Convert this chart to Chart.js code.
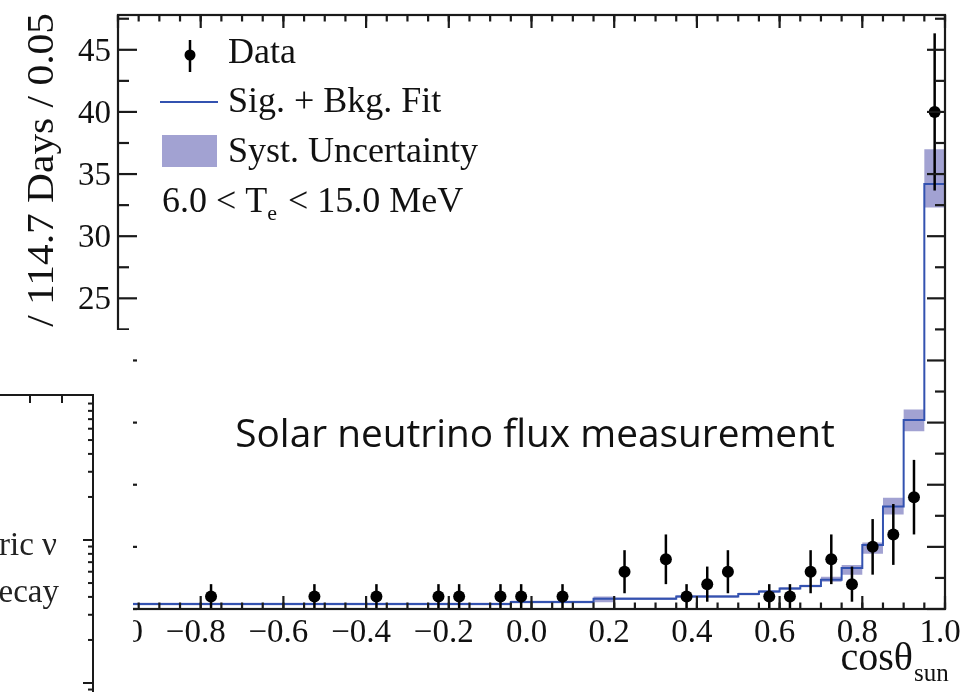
<!DOCTYPE html>
<html>
<head>
<meta charset="utf-8">
<script src="https://cdn.jsdelivr.net/npm/chart.js@4.4.1/dist/chart.umd.min.js"></script>
<style>
html, body { margin: 0; padding: 0; background: #fff; }
#wrap { width: 971px; height: 692px; position: relative; }
</style>
</head>
<body>
<div id="wrap"><canvas id="flux-chart"></canvas></div>
<script>
// cos(theta_sun) histogram, 40 bins of 0.05 from -1 to 1
var binWidth = 0.05;
var dataCounts = [0, 0, 0, 0, 1, 0, 0, 0, 0, 1,
                  0, 0, 1, 0, 0, 1, 1, 0, 1, 1,
                  0, 1, 0, 0, 3, 0, 4, 1, 2, 3,
                  0, 1, 1, 3, 4, 2, 5, 6, 9, 40];
var fitValues = [0.4, 0.4, 0.4, 0.4, 0.4, 0.4, 0.4, 0.4, 0.4, 0.4,
                 0.4, 0.4, 0.4, 0.4, 0.4, 0.4, 0.4, 0.4, 0.4, 0.57,
                 0.57, 0.57, 0.57, 0.83, 0.83, 0.83, 0.83, 1.0, 1.0, 1.0,
                 1.2, 1.4, 1.65, 1.85, 2.35, 3.3, 5.15, 8.25, 15.2, 34.2];
var systLow = [0.3, 0.3, 0.3, 0.3, 0.3, 0.3, 0.3, 0.3, 0.3, 0.3,
               0.3, 0.3, 0.3, 0.3, 0.3, 0.3, 0.3, 0.3, 0.3, 0.47,
               0.47, 0.47, 0.47, 0.55, 0.73, 0.73, 0.73, 0.9, 0.9, 0.9,
               1.1, 1.3, 1.55, 1.75, 2.2, 2.75, 4.45, 7.6, 14.3, 32.3];
var systHigh = [0.5, 0.5, 0.5, 0.5, 0.5, 0.5, 0.5, 0.5, 0.5, 0.5,
                0.5, 0.5, 0.5, 0.5, 0.5, 0.5, 0.5, 0.5, 0.5, 0.67,
                0.67, 0.67, 0.67, 1.0, 0.93, 0.93, 0.93, 1.1, 1.1, 1.1,
                1.3, 1.5, 1.75, 1.95, 2.6, 3.55, 5.35, 8.95, 16.05, 37.0];

var xTickValues = [-1.0, -0.8, -0.6, -0.4, -0.2, 0.0, 0.2, 0.4, 0.6, 0.8, 1.0];
var xTickLabels = ['\u22121.0', '\u22120.8', '\u22120.6', '\u22120.4', '\u22120.2', '0.0', '0.2', '0.4', '0.6', '0.8', '1.0'];
var yTickValues = [0, 5, 10, 15, 20, 25, 30, 35, 40, 45];
var yTickLabels = ['0', '5', '10', '15', '20', '25', '30', '35', '40', '45'];
var yMinorStep = 2.5;

var legendLabels = ['Data', 'Sig. + Bkg. Fit', 'Syst. Uncertainty'];
var xTitle = 'cos\u03b8';
var xTitleSub = 'sun';
var yTitle = 'Events / 114.7 Days / 0.05';
var overlayText = 'Solar neutrino flux measurement';

var fitColor = '#3352b0';
var bandColor = '#a2a2d2';
var frameColor = '#1a1a1a';
var serif = '"Liberation Serif", "Times New Roman", serif';

var binEdges = [];
for (var i = 0; i <= dataCounts.length; i++) {
    binEdges.push(-1 + i * binWidth);
}

// histogram values -> points at left bin edges, closed at the right edge
function stepPoints(values) {
    var pts = values.map(function(v, i) {
        return {x: binEdges[i], y: v};
    });
    pts.push({x: binEdges[values.length], y: values[values.length - 1]});
    return pts;
}

var dataPoints = [];
dataCounts.forEach(function(n, i) {
    if (n > 0) {
        dataPoints.push({x: (binEdges[i] + binEdges[i + 1]) / 2, y: n, err: Math.sqrt(n)});
    }
});

function line(ctx, x1, y1, x2, y2) {
    ctx.beginPath();
    ctx.moveTo(x1, y1);
    ctx.lineTo(x2, y2);
    ctx.stroke();
}

var rootStyle = {
    id: 'rootStyle',
    afterDatasetsDraw: function(chart) {
        var ctx = chart.ctx;
        var xs = chart.scales.x, ys = chart.scales.y;
        ctx.save();
        ctx.strokeStyle = '#000';
        ctx.lineWidth = 2.5;
        dataPoints.forEach(function(p) {
            var px = xs.getPixelForValue(p.x);
            line(ctx, px, ys.getPixelForValue(Math.max(0, p.y - p.err)), px, ys.getPixelForValue(p.y + p.err));
        });
        ctx.restore();
    },
    afterDraw: function(chart) {
        var ctx = chart.ctx;
        var xs = chart.scales.x, ys = chart.scales.y;
        var a = chart.chartArea;
        ctx.save();

        // frame
        ctx.strokeStyle = frameColor;
        ctx.lineWidth = 2.2;
        ctx.strokeRect(a.left, a.top, a.right - a.left, a.bottom - a.top);

        // x ticks, bottom and top
        binEdges.forEach(function(v) {
            var px = xs.getPixelForValue(v);
            line(ctx, px, a.bottom, px, a.bottom - 6.5);
            line(ctx, px, a.top, px, a.top + 6.5);
        });
        xTickValues.forEach(function(v) {
            var px = xs.getPixelForValue(v);
            line(ctx, px, a.bottom, px, a.bottom - 13);
            line(ctx, px, a.top, px, a.top + 13);
        });
        // y ticks, left and right
        for (var v = 0; v <= ys.max; v += yMinorStep) {
            var py = ys.getPixelForValue(v);
            var major = yTickValues.indexOf(v) >= 0;
            line(ctx, a.left, py, a.left + (major ? 19 : 11), py);
            line(ctx, a.right, py, a.right - (major ? 18 : 10), py);
        }

        // tick labels
        ctx.fillStyle = '#111';
        ctx.font = '33px ' + serif;
        ctx.textBaseline = 'alphabetic';
        ctx.textAlign = 'center';
        xTickValues.forEach(function(v, i) {
            ctx.fillText(xTickLabels[i], xs.getPixelForValue(v) - 5, a.bottom + 33);
        });
        ctx.textAlign = 'right';
        yTickValues.forEach(function(v, i) {
            ctx.fillText(yTickLabels[i], a.left - 7, ys.getPixelForValue(v) + 11);
        });

        // axis titles
        ctx.font = '40px ' + serif;
        ctx.textAlign = 'right';
        ctx.fillText(xTitle, 913, 670);
        ctx.font = '25px ' + serif;
        ctx.textAlign = 'left';
        ctx.fillText(xTitleSub, 914, 681);

        ctx.save();
        ctx.translate(53, 13);
        ctx.rotate(-Math.PI / 2);
        ctx.scale(1.12, 1);
        ctx.font = '37px ' + serif;
        ctx.textAlign = 'right';
        ctx.fillText(yTitle, 0, 0);
        ctx.restore();

        // legend
        ctx.fillStyle = '#000';
        ctx.beginPath();
        ctx.arc(190, 55, 5.5, 0, Math.PI * 2);
        ctx.fill();
        ctx.strokeStyle = '#000';
        ctx.lineWidth = 2.5;
        line(ctx, 190, 40, 190, 72);
        ctx.strokeStyle = fitColor;
        ctx.lineWidth = 2;
        line(ctx, 160, 102, 218, 102);
        ctx.fillStyle = bandColor;
        ctx.fillRect(162, 135, 55, 32);

        ctx.fillStyle = '#111';
        ctx.font = '36px ' + serif;
        ctx.textAlign = 'left';
        ctx.fillText(legendLabels[0], 228, 63);
        ctx.fillText(legendLabels[1], 228, 112);
        ctx.fillText(legendLabels[2], 228, 162);

        var x0 = 162;
        var t1 = '6.0 < T';
        ctx.fillText(t1, x0, 212);
        x0 += ctx.measureText(t1).width;
        ctx.font = '22px ' + serif;
        ctx.fillText('e', x0, 220);
        x0 += ctx.measureText('e').width + 2;
        ctx.font = '36px ' + serif;
        ctx.fillText(' < 15.0 MeV', x0, 212);

        // cover of the lower left corner, with a piece of the neighbouring panel
        ctx.fillStyle = '#fff';
        ctx.fillRect(0, 330, 133, 362);
        ctx.strokeStyle = frameColor;
        ctx.lineWidth = 2;
        ctx.beginPath();
        ctx.moveTo(0, 395);
        ctx.lineTo(93, 395);
        ctx.lineTo(93, 692);
        ctx.stroke();
        line(ctx, 30, 395, 30, 403);
        line(ctx, 62, 395, 62, 403);
        [540, 683, 826].forEach(function(base) {
            line(ctx, 93, base, 83, base);
            for (var k = 2; k <= 9; k++) {
                var py = base - 143 * Math.log10(k);
                if (py > 396 && py < 692) line(ctx, 93, py, 88, py);
            }
        });
        ctx.fillStyle = '#222';
        ctx.font = '33px ' + serif;
        ctx.textAlign = 'right';
        ctx.fillText('Atmospheric \u03bd', 57, 555);
        ctx.fillText('decay', 59, 602);

        // overlay caption
        ctx.fillStyle = '#111';
        ctx.font = '38.8px "Open Sans", sans-serif';
        ctx.textAlign = 'center';
        ctx.fillText(overlayText, 535, 447);

        ctx.restore();
    }
};

var ctx = document.getElementById('flux-chart').getContext('2d');
var fluxChart = new Chart(ctx, {
    type: 'scatter',
    data: {
        datasets: [{
            label: legendLabels[0],
            data: dataPoints,
            pointRadius: 6,
            pointBackgroundColor: '#000',
            pointBorderColor: '#000',
            pointBorderWidth: 0,
            showLine: false
        }, {
            label: legendLabels[1],
            type: 'line',
            data: stepPoints(fitValues),
            stepped: 'before',
            borderColor: fitColor,
            borderWidth: 2,
            pointRadius: 0,
            fill: false
        }, {
            label: 'Syst. high',
            type: 'line',
            data: stepPoints(systHigh),
            stepped: 'before',
            borderColor: 'rgba(0,0,0,0)',
            borderWidth: 1,
            pointRadius: 0,
            backgroundColor: bandColor,
            fill: '+1'
        }, {
            label: 'Syst. low',
            type: 'line',
            data: stepPoints(systLow),
            stepped: 'before',
            borderColor: 'rgba(0,0,0,0)',
            borderWidth: 1,
            pointRadius: 0,
            fill: false
        }]
    },
    options: {
        responsive: true,
        maintainAspectRatio: false,
        animation: false,
        events: [],
        layout: {
            padding: {left: 118, right: 26, top: 15, bottom: 83}
        },
        plugins: {
            legend: {display: false},
            tooltip: {enabled: false}
        },
        scales: {
            x: {type: 'linear', min: -1, max: 1, display: false},
            y: {type: 'linear', min: 0, max: 47.8, display: false}
        }
    },
    plugins: [rootStyle]
});
</script>
</body>
</html>
